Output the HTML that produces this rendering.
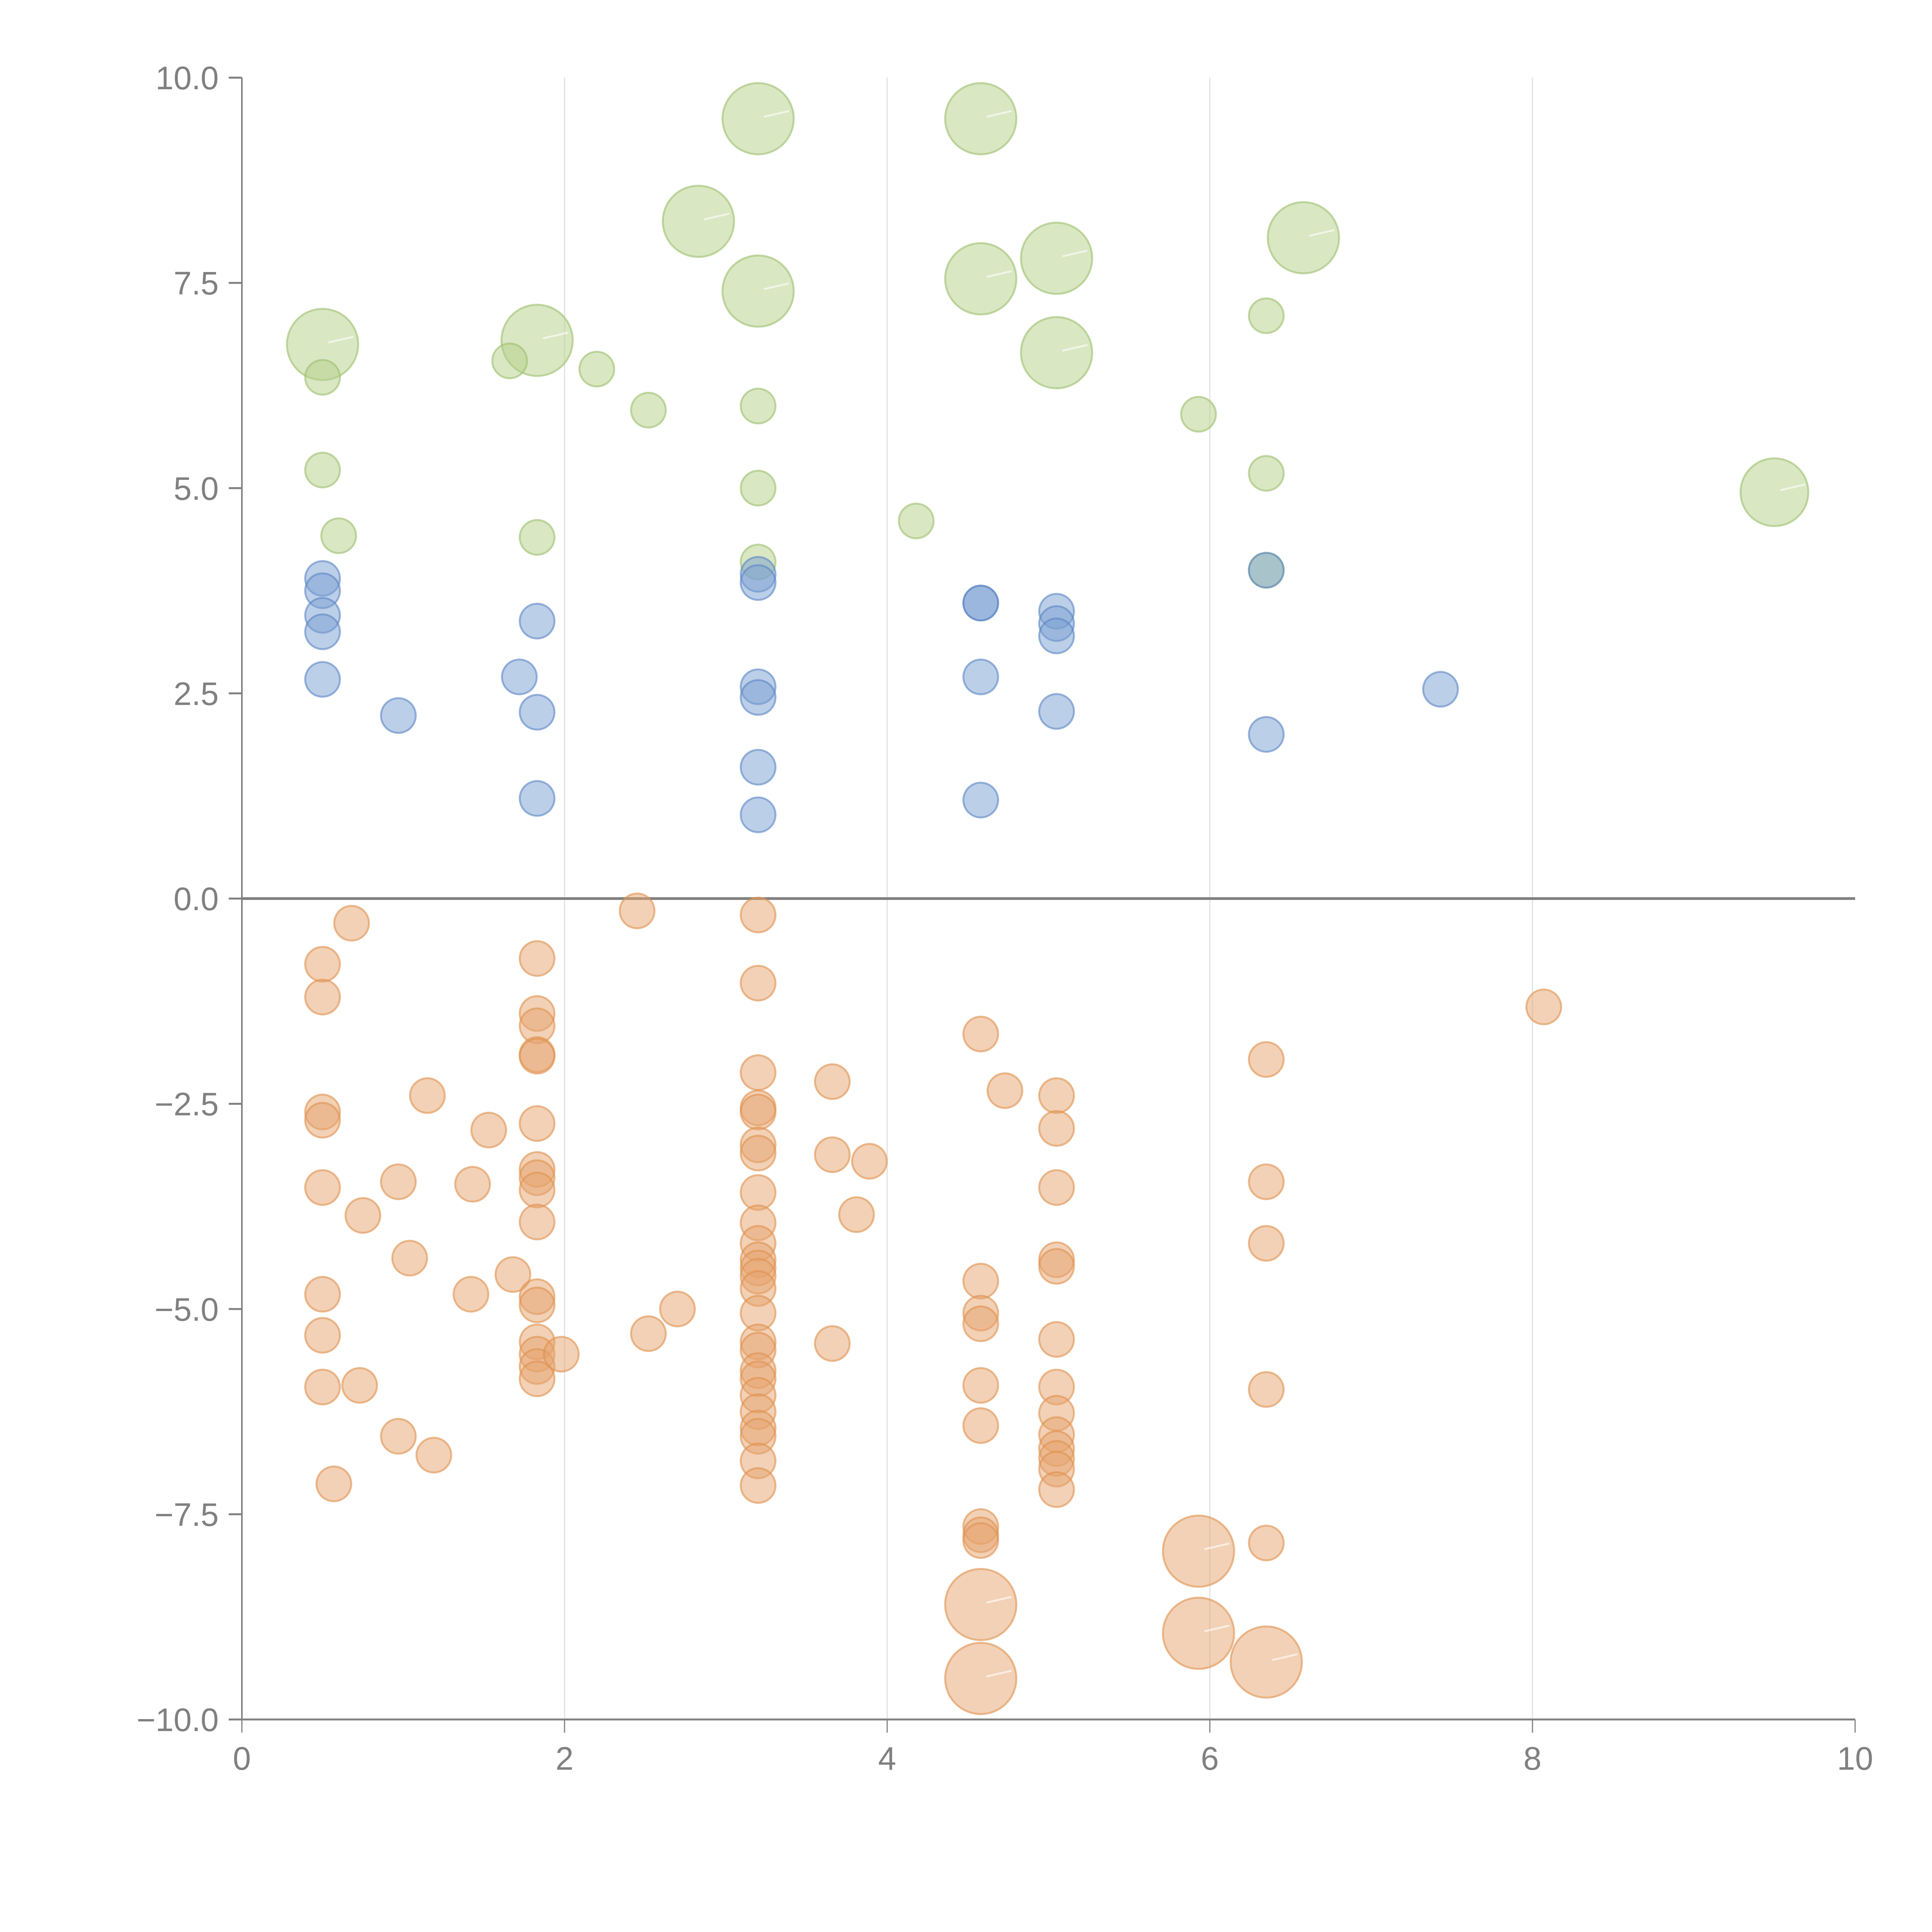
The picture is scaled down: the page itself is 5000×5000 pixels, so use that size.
<!DOCTYPE html>
<html><head><meta charset="utf-8"><style>
html,body{margin:0;padding:0;background:#fff;}
svg{display:block;}
text{font-family:"Liberation Sans",sans-serif;fill:#808080;}
</style></head><body>
<svg id="chart" width="5000" height="5000" viewBox="0 0 5000 5000" xmlns="http://www.w3.org/2000/svg">
<g id="grid"></g>
<g id="axes"></g>
<g id="marks"></g>
</svg>
<script>
const xTicks=[0,2,4,6,8,10];
const yTicks=[10,7.5,5,2.5,0,-2.5,-5,-7.5,-10];
const greenX=[3.2,4.58,2.83,6.58,5.05,3.2,4.58,0.5,1.83,5.05,9.5,0.5,1.66,2.2,2.52,3.2,3.2,0.5,0.6,1.83,4.18,5.93,6.35,6.35,3.2,6.35];
const greenY=[9.5,9.5,8.25,8.05,7.8,7.4,7.55,6.75,6.8,6.65,4.95,6.35,6.55,6.45,5.95,6.0,5.0,5.22,4.42,4.4,4.6,5.9,7.1,5.18,4.1,4.0];
const greenS=[4.2,4.2,4.2,4.2,4.2,4.2,4.2,4.2,4.2,4.2,3.8,1,1,1,1,1,1,1,1,1,1,1,1,1,1,1];
const blueX=[0.5,0.5,0.5,0.5,0.5,0.97,1.72,1.83,1.83,1.83,3.2,3.2,3.2,3.2,3.2,3.2,4.58,4.58,4.58,4.58,5.05,5.05,5.05,5.05,6.35,6.35,7.43];
const blueY=[3.9,3.75,3.45,3.25,2.67,2.23,2.7,3.38,2.27,1.22,3.95,3.85,2.58,2.45,1.6,1.02,3.6,3.6,2.7,1.2,3.5,3.35,3.2,2.28,4.0,2.0,2.55];
const orangeX=[0.5,0.5,0.68,0.5,0.5,0.5,0.5,0.5,0.5,0.57,0.75,0.73,0.97,0.97,1.04,1.15,1.19,1.42,1.43,1.53,1.68,1.83,1.83,1.83,1.83,1.83,1.83,1.83,1.83,1.83,1.83,1.83,1.83,1.83,1.83,1.83,1.83,1.98,2.45,2.52,2.7,3.2,3.2,3.2,3.2,3.2,3.2,3.2,3.2,3.2,3.2,3.2,3.2,3.2,3.2,3.2,3.2,3.2,3.2,3.2,3.2,3.2,3.2,3.2,3.2,3.2,3.66,3.66,3.66,3.81,3.89,4.58,4.58,4.58,4.58,4.58,4.58,4.58,4.58,4.58,4.73,5.05,5.05,5.05,5.05,5.05,5.05,5.05,5.05,5.05,5.05,5.05,5.05,5.05,6.35,6.35,6.35,6.35,6.35,8.07,4.58,4.58,5.93,5.93,6.35];
const orangeY=[-0.8,-1.2,-0.3,-2.6,-2.7,-3.52,-4.82,-5.32,-5.95,-7.13,-3.86,-5.93,-3.45,-6.55,-4.38,-2.4,-6.78,-4.82,-3.48,-2.82,-4.58,-0.73,-1.4,-1.55,-1.9,-1.92,-2.74,-3.3,-3.4,-3.55,-3.94,-4.85,-4.95,-5.4,-5.55,-5.7,-5.85,-5.55,-0.15,-5.3,-5.0,-0.2,-1.03,-2.12,-2.55,-2.6,-3.0,-3.1,-3.58,-3.95,-4.2,-4.4,-4.5,-4.6,-4.75,-5.05,-5.4,-5.5,-5.75,-5.85,-6.05,-6.25,-6.45,-6.55,-6.85,-7.15,-2.23,-3.12,-5.42,-3.85,-3.2,-1.65,-4.66,-5.05,-5.18,-5.93,-6.42,-7.65,-7.75,-7.82,-2.34,-2.4,-2.8,-3.52,-4.4,-4.48,-5.37,-5.95,-6.27,-6.53,-6.7,-6.82,-6.95,-7.2,-1.96,-3.45,-4.2,-5.98,-7.85,-1.32,-8.6,-9.5,-7.95,-8.95,-9.3];
const orangeBig=[4.2,4.2,4.2,4.2,4.2];

const X0=626,X1=4801,Y0=4450,Y1=201;
const sx=v=>X0+(v)/10*(X1-X0);
const sy=v=>Y0-(v+10)/20*(Y0-Y1);
const NS='http://www.w3.org/2000/svg';
function mk(tag,attrs,parent){const e=document.createElementNS(NS,tag);for(const k in attrs)e.setAttribute(k,attrs[k]);parent.appendChild(e);return e;}
const grid=document.getElementById('grid'),axes=document.getElementById('axes'),marks=document.getElementById('marks');

xTicks.forEach(t=>{
  if(t>0&&t<10){const g=mk('line',{x1:sx(t),x2:sx(t),y1:Y1,y2:Y0,stroke:'#e0e0e0','stroke-width':3},grid);
  
  }
  const tk=mk('line',{x1:sx(t),x2:sx(t),y1:Y0,y2:Y0+34,stroke:'#808080','stroke-width':3},axes);
  
  
  const tx=mk('text',{x:sx(t),y:Y0+130,'text-anchor':'middle','font-size':84},axes);
  tx.textContent=String(t);
  
  
});
yTicks.forEach(t=>{
  const tk=mk('line',{x1:X0-34,x2:X0,y1:sy(t),y2:sy(t),stroke:'#808080','stroke-width':5},axes);
  
  
  const tx=mk('text',{x:X0-60,y:sy(t)+30,'text-anchor':'end','font-size':84},axes);
  tx.textContent=(t<0?'\u2212':'')+Math.abs(t).toFixed(1);
  
  
});
let a=mk('line',{x1:X0,x2:X0,y1:Y1,y2:Y0,stroke:'#808080','stroke-width':4},axes);


a=mk('line',{x1:X0,x2:X1,y1:Y0,y2:Y0,stroke:'#808080','stroke-width':5},axes);


a=mk('line',{x1:X0,x2:X1,y1:sy(0),y2:sy(0),stroke:'#808080','stroke-width':7},axes);



function bubble(x,y,s,fill,stroke,name){
  const r=45*Math.sqrt(s);
  const c=mk('circle',{cx:sx(x),cy:sy(y),r:r,fill:fill,'fill-opacity':0.5,stroke:stroke,'stroke-opacity':0.6,'stroke-width':5},marks);
  
  
  if(s>2){const l=mk('line',{x1:sx(x)+15,y1:sy(y)-5,x2:sx(x)+80,y2:sy(y)-20,stroke:'#fff','stroke-opacity':0.6,'stroke-width':5},marks);
  
  }
}
greenX.forEach((x,i)=>bubble(x,greenY[i],greenS[i],'#b3cf88','#9dbf6e','green-bubble'));
blueX.forEach((x,i)=>bubble(x,blueY[i],1,'#7a9fd1','#5b86c4','blue-bubble'));
orangeX.forEach((x,i)=>{const n=orangeX.length-orangeBig.length;bubble(x,orangeY[i],i>=n?orangeBig[i-n]:1,'#e6a46e','#e0914f','orange-bubble');});
</script>
</body></html>
